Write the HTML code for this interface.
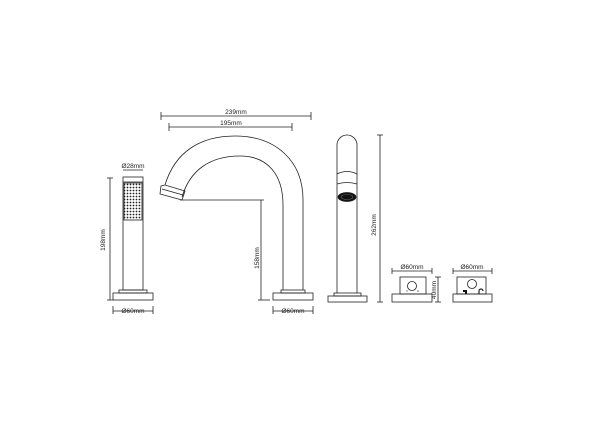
<!DOCTYPE html>
<html><head><style>html,body{margin:0;padding:0;background:#fff}svg{display:block}</style></head><body>
<svg width="600" height="424" viewBox="0 0 600 424" xmlns="http://www.w3.org/2000/svg" font-family="Liberation Sans, sans-serif" font-size="6.5" fill="none" stroke="#222" stroke-width="0.8">
<defs>
<pattern id="dots" width="3" height="3" patternUnits="userSpaceOnUse"><rect width="3" height="3" fill="#fff" stroke="none"/><circle cx="1.5" cy="1.5" r="0.9" fill="#222" stroke="none"/></pattern>
</defs>
<!-- hand shower -->
<rect x="123" y="177" width="20" height="113"/>
<line x1="123" y1="182" x2="143" y2="182"/>
<rect x="124" y="183" width="18" height="37" fill="url(#dots)"/>
<rect x="119" y="290" width="28" height="3"/>
<rect x="113" y="293" width="40" height="7"/>
<line x1="110" y1="178" x2="110" y2="300"/>
<line x1="107" y1="178" x2="113" y2="178"/><line x1="107" y1="300" x2="113" y2="300"/>
<text x="105" y="240" transform="rotate(-90 105 240)" text-anchor="middle" fill="#222" stroke="none">198mm</text>
<line x1="123" y1="170" x2="143" y2="170"/>
<text x="133" y="168" text-anchor="middle" fill="#222" stroke="none">Ø28mm</text>
<line x1="113" y1="311" x2="153" y2="311"/><line x1="113" y1="306" x2="113" y2="314"/><line x1="153" y1="306" x2="153" y2="314"/>
<text x="133" y="313" text-anchor="middle" fill="#222" stroke="none">Ø60mm</text>
<!-- spout -->
<path d="M165,185 C175,152 200,136 235,136 C275,136 303,160 303,200 L303,290"/>
<path d="M182,197 C190,170 210,156 240,156 C268,156 283,175 283,205 L283,290"/>
<path d="M161,186 L165,185 L185,191 L182,200 L160,194 Z"/>
<line x1="162" y1="189" x2="183" y2="195"/>
<rect x="281" y="290" width="24" height="3"/>
<rect x="273" y="293" width="40" height="7"/>
<line x1="180" y1="200" x2="264" y2="200"/>
<line x1="261" y1="200" x2="261" y2="300"/>
<line x1="258" y1="300" x2="270" y2="300"/>
<text x="259" y="258" transform="rotate(-90 259 258)" text-anchor="middle" fill="#222" stroke="none">158mm</text>
<line x1="161" y1="116" x2="311" y2="116"/><line x1="161" y1="112" x2="161" y2="120"/><line x1="311" y1="112" x2="311" y2="120"/>
<text x="236" y="114" text-anchor="middle" fill="#222" stroke="none">239mm</text>
<line x1="169" y1="127" x2="292" y2="127"/><line x1="169" y1="123" x2="169" y2="131"/><line x1="292" y1="123" x2="292" y2="131"/>
<text x="231" y="125" text-anchor="middle" fill="#222" stroke="none">195mm</text>
<line x1="273" y1="311" x2="313" y2="311"/><line x1="273" y1="306" x2="273" y2="314"/><line x1="313" y1="306" x2="313" y2="314"/>
<text x="293" y="313" text-anchor="middle" fill="#222" stroke="none">Ø60mm</text>
<!-- tall faucet -->
<path d="M337,293 L337,145 A10,10 0 0 1 357,145 L357,293"/>
<path d="M337,174 Q347,169 357,174"/>
<path d="M337,184 Q347,181 357,184"/>
<ellipse cx="347" cy="197" rx="9" ry="4.5" fill="#111"/>
<ellipse cx="347" cy="197" rx="6" ry="2.5" fill="none" stroke="#666" stroke-width="0.6"/>
<rect x="334" y="293" width="27" height="3"/>
<rect x="328" y="296" width="39" height="6"/>
<line x1="380" y1="135" x2="380" y2="302"/>
<line x1="377" y1="135" x2="383" y2="135"/><line x1="377" y1="302" x2="383" y2="302"/>
<text x="376" y="225" transform="rotate(-90 376 225)" text-anchor="middle" fill="#222" stroke="none">262mm</text>
<!-- valve 1 -->
<rect x="400" y="277" width="26" height="17"/>
<rect x="392" y="294" width="40" height="8"/>
<circle cx="412" cy="286" r="4.5"/>
<text x="406" y="292" font-size="3" fill="#444" stroke="none">C</text>
<text x="417" y="292" font-size="3" fill="#444" stroke="none">H</text>
<line x1="392" y1="271" x2="432" y2="271"/><line x1="392" y1="268" x2="392" y2="274"/><line x1="432" y1="268" x2="432" y2="274"/>
<text x="412" y="269" text-anchor="middle" fill="#222" stroke="none">Ø60mm</text>
<line x1="438" y1="277" x2="438" y2="302"/><line x1="435" y1="277" x2="441" y2="277"/><line x1="435" y1="302" x2="441" y2="302"/>
<text x="436" y="290" transform="rotate(-90 436 290)" text-anchor="middle" fill="#222" stroke="none">40mm</text>
<!-- valve 2 -->
<rect x="457" y="277" width="29" height="17"/>
<rect x="453" y="294" width="39" height="8"/>
<circle cx="472" cy="284" r="4.5"/>
<path d="M463,290 h4 v4 h-2 v-2 h-2 z" fill="#111" stroke="none"/>
<path d="M479,294 v-3 a2,2 0 0 1 4,0" stroke-width="1.2"/>
<line x1="453" y1="271" x2="492" y2="271"/><line x1="453" y1="268" x2="453" y2="274"/><line x1="492" y1="268" x2="492" y2="274"/>
<text x="472" y="269" text-anchor="middle" fill="#222" stroke="none">Ø60mm</text>
</svg>
</body></html>
